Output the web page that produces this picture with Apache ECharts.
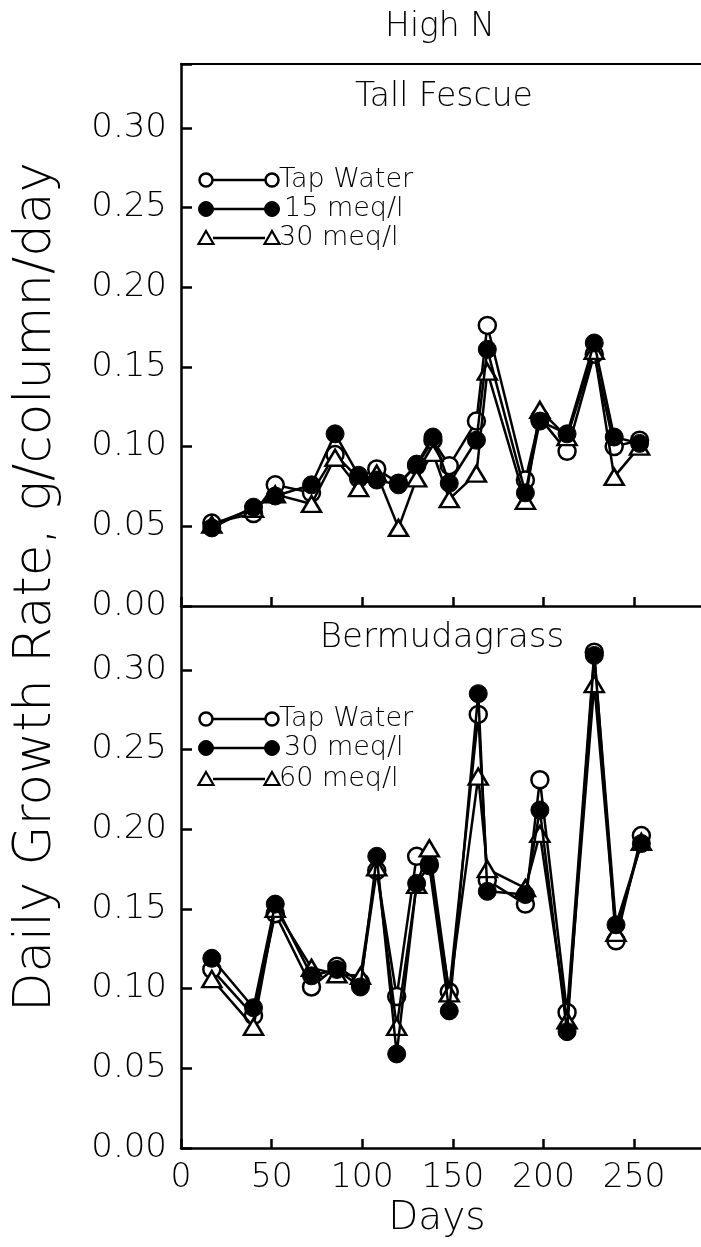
<!DOCTYPE html>
<html>
<head>
<meta charset="utf-8">
<script src="https://cdn.jsdelivr.net/npm/echarts@6/dist/echarts.min.js"></script>
<style>
html,body{margin:0;padding:0;background:#fff;}
#chart{width:701px;height:1247px;}
</style>
</head>
<body>
<div id="chart"></div>
<script>
// ---- data ----
const fescueDays = [17, 40, 52, 72, 85, 98, 108, 120, 130, 139, 148, 163, 169, 190, 198, 213, 228, 239, 253];
const fescueTap  = [0.052, 0.058, 0.076, 0.071, 0.095, 0.080, 0.086, 0.077, 0.088, 0.104, 0.088, 0.116, 0.176, 0.079, 0.118, 0.097, 0.158, 0.100, 0.104];
const fescue15   = [0.049, 0.062, 0.069, 0.076, 0.108, 0.082, 0.079, 0.076, 0.089, 0.106, 0.077, 0.104, 0.161, 0.071, 0.116, 0.108, 0.165, 0.106, 0.102];
const fescue30   = [0.051, 0.061, 0.070, 0.064, 0.093, 0.074, 0.083, 0.049, 0.080, 0.096, 0.067, 0.083, 0.147, 0.066, 0.123, 0.106, 0.160, 0.081, 0.100];

const bermudaDays = [17, 40, 52, 72, 86, 99, 108, 119, 130, 137, 148, 164, 169, 190, 198, 213, 228, 240, 254];
const bermudaTap  = [0.112, 0.083, 0.147, 0.101, 0.114, 0.104, 0.174, 0.095, 0.183, 0.178, 0.098, 0.272, 0.168, 0.153, 0.231, 0.085, 0.311, 0.130, 0.196];
const bermuda30   = [0.119, 0.088, 0.153, 0.108, 0.112, 0.101, 0.183, 0.059, 0.166, 0.177, 0.086, 0.285, 0.161, 0.159, 0.212, 0.073, 0.309, 0.140, 0.191];
const bermuda60   = [0.106, 0.076, 0.150, 0.113, 0.109, 0.108, 0.176, 0.076, 0.165, 0.188, 0.097, 0.233, 0.175, 0.163, 0.197, 0.080, 0.291, 0.135, 0.192];

const xTicks = [0, 50, 100, 150, 200, 250];
const yTicks = [0.00, 0.05, 0.10, 0.15, 0.20, 0.25, 0.30];
const fescueLegend  = ['Tap Water', '15 meq/l', '30 meq/l'];
const bermudaLegend = ['Tap Water', '30 meq/l', '60 meq/l'];

// ---- chart ----
const FONT = 'DejaVu Sans';
const chart = echarts.init(document.getElementById('chart'), null, {renderer: 'canvas'});

function pairs(xs, ys) { return xs.map((x, i) => [x, ys[i]]); }
function isTick(list, v) { return list.some(t => Math.abs(t - v) < 1e-6); }

const LW = 2.5;
function yAxisCfg(gi) {
  return {
    type: 'value', gridIndex: gi, min: 0, max: 0.34, interval: 0.05,
    axisLine: {show: true, onZero: false, lineStyle: {color: '#000', width: LW}},
    axisTick: {show: true, inside: true, length: 11, lineStyle: {color: '#000', width: 2.5}},
    splitLine: {show: false},
    axisLabel: {
      show: true, margin: 14, color: '#000', fontFamily: FONT, fontSize: 34, fontWeight: 200,
      formatter: v => isTick(yTicks, v) ? v.toFixed(2) : ''
    }
  };
}
function xAxisCfg(gi, showLabels) {
  return {
    type: 'value', gridIndex: gi, min: 0, max: 288, interval: 50,
    axisLine: {show: true, onZero: false, lineStyle: {color: '#000', width: LW}},
    axisTick: {show: true, inside: true, length: 9, lineStyle: {color: '#000', width: 2.5}},
    splitLine: {show: false},
    axisLabel: {
      show: showLabels, margin: 14, color: '#000', fontFamily: FONT, fontSize: 33, fontWeight: 200,
      formatter: v => isTick(xTicks, v) ? String(v) : ''
    }
  };
}

function series(name, gi, xs, ys, kind) {
  const base = {
    name: name, type: 'line', xAxisIndex: gi * 2, yAxisIndex: gi,
    data: pairs(xs, ys), animation: false,
    lineStyle: {color: '#000', width: LW},
    emphasis: {disabled: true}
  };
  if (kind === 'open') {
    Object.assign(base, {symbol: 'circle', symbolSize: 17, z: 2,
      itemStyle: {color: '#fff', borderColor: '#000', borderWidth: 2.5}});
  } else if (kind === 'filled') {
    Object.assign(base, {symbol: 'circle', symbolSize: 18, z: 4,
      itemStyle: {color: '#000', borderColor: '#000', borderWidth: 1}});
  } else {
    Object.assign(base, {symbol: 'triangle', symbolSize: [19, 16], z: 3,
      itemStyle: {color: '#fff', borderColor: '#000', borderWidth: 2.5}});
  }
  return base;
}

// legend drawn as graphic group
function legendRow(y, kind, label, textX) {
  const x1 = 206, x2 = 272;
  const els = [{type: 'line', shape: {x1: x1 + 7, y1: y, x2: x2 - 7, y2: y}, style: {stroke: '#000', lineWidth: 2.5}}];
  [x1, x2].forEach(cx => {
    if (kind === 'open') {
      els.push({type: 'circle', shape: {cx: cx, cy: y, r: 6.5}, style: {fill: '#fff', stroke: '#000', lineWidth: 2.5}});
    } else if (kind === 'filled') {
      els.push({type: 'circle', shape: {cx: cx, cy: y, r: 7.5}, style: {fill: '#000', stroke: '#000', lineWidth: 1}});
    } else {
      els.push({type: 'polygon', shape: {points: [[cx, y - 7], [cx + 7.5, y + 6], [cx - 7.5, y + 6]]}, style: {fill: '#fff', stroke: '#000', lineWidth: 2.2}});
    }
  });
  els.push({type: 'text', x: textX, y: y, style: {text: label, font: '200 27px "' + FONT + '"', fill: '#000', textAlign: 'left', textVerticalAlign: 'middle'}});
  return els;
}

function txt(x, y, s, size, rot) {
  return {type: 'text', x: x, y: y, rotation: rot || 0,
    style: {text: s, font: '200 ' + size + 'px "' + FONT + '"', fill: '#000', textAlign: 'center', textVerticalAlign: 'middle'}};
}

const kinds = ['open', 'filled', 'tri'];
let graphics = [
  txt(440, 27, 'High N', 33),
  txt(444, 97, 'Tall Fescue', 33),
  txt(442, 638, 'Bermudagrass', 34),
  txt(437, 1219, 'Days', 39),
  txt(37, 587, 'Daily Growth Rate, g/column/day', 51.5, Math.PI / 2)
];
const topRows = [180, 209, 238];
const botRows = [719, 748, 779];
fescueLegend.forEach((l, i) => { graphics = graphics.concat(legendRow(topRows[i], kinds[i], l, i === 1 ? 284 : 279)); });
bermudaLegend.forEach((l, i) => { graphics = graphics.concat(legendRow(botRows[i], kinds[i], l, i === 1 ? 284 : 279)); });

const option = {
  backgroundColor: '#fff',
  animation: false,
  grid: [
    {left: 181, right: -2, top: 64, height: 542, containLabel: false, outerBoundsMode: 'none'},
    {left: 181, right: -2, top: 606, height: 542, containLabel: false, outerBoundsMode: 'none'}
  ],
  xAxis: [
    xAxisCfg(0, false),
    // top border line of upper panel
    {type: 'value', gridIndex: 0, position: 'top', min: 0, max: 288,
     axisLine: {show: true, onZero: false, lineStyle: {color: '#000', width: 2}}, axisTick: {show: false},
     axisLabel: {show: false}, splitLine: {show: false}},
    xAxisCfg(1, true)
  ],
  yAxis: [yAxisCfg(0), yAxisCfg(1)],
  series: [
    series('Tap Water', 0, fescueDays, fescueTap, 'open'),
    series('15 meq/l', 0, fescueDays, fescue15, 'filled'),
    series('30 meq/l', 0, fescueDays, fescue30, 'tri'),
    series('Tap Water', 1, bermudaDays, bermudaTap, 'open'),
    series('30 meq/l', 1, bermudaDays, bermuda30, 'filled'),
    series('60 meq/l', 1, bermudaDays, bermuda60, 'tri')
  ],
  graphic: graphics
};
chart.setOption(option);
</script>
</body>
</html>
